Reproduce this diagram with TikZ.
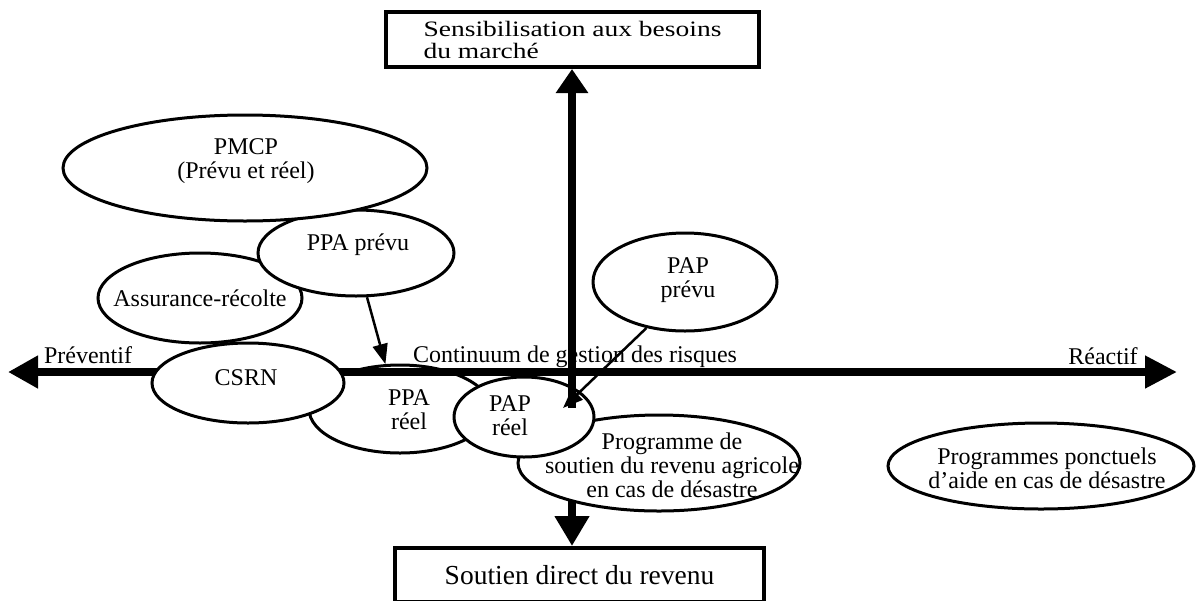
\documentclass[tikz,border=0pt]{standalone}
\usepackage{fontspec}
\setmainfont{Liberation Serif}
\newfontfamily\wideserif[FakeStretch=1.25]{Liberation Serif}
\usetikzlibrary{shapes.geometric,arrows.meta}
\begin{document}
\begin{tikzpicture}[x=1pt,y=-1pt,
 oval/.style={ellipse, draw, fill=white, line width=3pt, inner sep=0pt},
 txt/.style={align=center, font=\fontsize{24}{24}\selectfont, inner sep=0pt},
 boxed/.style={draw, fill=white, line width=4pt, rectangle, inner sep=0pt},
 axisline/.style={line width=7.5pt},
 thinarrow/.style={line width=2.5pt, -{Triangle[length=20pt,width=15pt]}},
]
\fill[white] (0,0) rectangle (1198,600);
\useasboundingbox (0,0) rectangle (1198,600);
\clip (0,0) rectangle (1198,600);

% boxes
\node[boxed, minimum width=373pt, minimum height=55pt, align=left,
      font=\wideserif\fontsize{22}{22}\selectfont] (topbox) at (572.5,39.5)
      {Sensibilisation aux besoins\\du marché};
\node[boxed, minimum width=369pt, minimum height=54pt,
      font=\fontsize{27.5}{28}\selectfont] (botbox) at (579.5,575)
      {Soutien direct du revenu};

% axis labels
\node[txt, anchor=base] (prev) at (88,363) {Préventif};
\node[txt, anchor=base] (reac) at (1103,364) {Réactif};
\node[txt, anchor=base] (cont) at (575,362) {Continuum de gestion des risques};

% ellipses
\node[oval, minimum width=306pt, minimum height=86pt,
      label={[txt, name=ponct-t, xshift=6pt, yshift=-2pt]center:{Programmes ponctuels\\d’aide en cas de désastre}}]
      (ponct) at (1041,466) {};
\node[oval, minimum width=204pt, minimum height=90pt,
      label={[txt, name=assur-t]center:{Assurance-récolte}}]
      (assur) at (200,298) {};
\node[oval, minimum width=196pt, minimum height=86pt,
      label={[txt, name=ppap-t, xshift=2pt, yshift=8pt]center:{PPA prévu}}]
      (ppap) at (356,253) {};
\node[oval, minimum width=364pt, minimum height=106pt,
      label={[txt, name=pmcp-t, xshift=1pt, yshift=7pt]center:{PMCP\\(Prévu et réel)}}]
      (pmcp) at (245,168) {};
\node[oval, minimum width=182pt, minimum height=88pt,
      label={[txt, name=ppar-t, xshift=9pt, yshift=-1pt]center:{PPA\\réel}}]
      (ppar) at (400,409) {};

% horizontal axis
\coordinate (axl) at (8,372);
\coordinate (axr) at (1177,372);
\draw[axisline, {Triangle[length=30pt,width=31pt]}-{Triangle[length=32pt,width=31pt]}] (axl) -- (axr);

\node[oval, minimum width=192pt, minimum height=80pt,
      label={[txt, name=csrn-t, xshift=-2pt, yshift=5pt]center:{CSRN}}]
      (csrn) at (248,383) {};

% lower vertical axis
\coordinate (vbot) at (572,480);
\draw[axisline, -{Triangle[length=30pt,width=33pt]}] (vbot) -- (vbot |- botbox.north);

\node[oval, minimum width=282pt, minimum height=96pt,
      label={[txt, name=prog-t, xshift=13pt, yshift=-2pt]center:{Programme de\\soutien du revenu agricole\\en cas de désastre}}]
      (prog) at (659,463) {};
\node[oval, minimum width=140pt, minimum height=80pt,
      label={[txt, name=papr-t, xshift=-14pt, yshift=1pt]center:{PAP\\réel}}]
      (papr) at (524,417) {};
\node[oval, minimum width=184pt, minimum height=98pt,
      label={[txt, name=papp-t, xshift=3pt, yshift=2pt]center:{PAP\\prévu}}]
      (papp) at (685,282) {};

% upper vertical axis
\coordinate (vmid) at (572,408);
\draw[axisline, -{Triangle[length=24pt,width=31pt]}] (vmid) -- (vmid |- topbox.south);

% thin arrows
\coordinate (papin) at (563,408);
\draw[thinarrow] (ppap.-76) -- (ppar.108);
\draw[thinarrow] (papp.-130) -- (papin);
\end{tikzpicture}
\end{document}
